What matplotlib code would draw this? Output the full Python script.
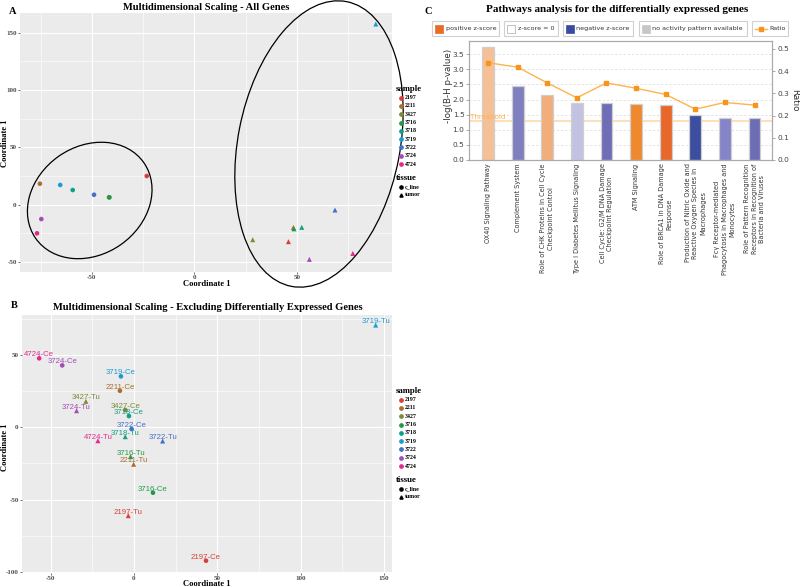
import numpy as np
import matplotlib
matplotlib.use("Agg")
import matplotlib.pyplot as plt
import matplotlib.transforms as mtransforms
from matplotlib.patches import Ellipse, Rectangle
from matplotlib.lines import Line2D

plt.rcParams['font.family'] = 'Liberation Serif'
plt.rcParams['axes.unicode_minus'] = False

W, H = 800, 587

##########################################
# data
##########################################
samples = ['2197', '2211', '3427', '3716', '3718', '3719', '3722', '3724', '4724']
sample_colors = ['#D8403A', '#A8702E', '#7D8B34', '#1F9A4A', '#10A084',
                 '#1C9BD3', '#4470C8', '#A24DB3', '#E12A8F']
tissues = ['c_line', 'tumor']

# panel A - all genes (coordinates per sample)
a_cline_x = [-23.2, -75.3, -41.6, -41.4, -59.3, -65.4, -48.9, -74.6, -76.7]
a_cline_y = [25.0, 18.3, 6.5, 6.4, 12.8, 17.2, 8.7, -12.5, -24.9]
a_tumor_x = [45.9, 48.3, 28.5, 48.6, 52.4, 88.5, 68.6, 56.1, 77.3]
a_tumor_y = [-32.2, -19.8, -30.5, -21.0, -19.7, 157.4, -4.6, -47.6, -42.4]

# panel B - excluding DE genes
b_cline_x = [43.2, -8.4, -5.2, 11.4, -3.0, -7.8, -1.4, -43.0, -56.8]
b_cline_y = [-92.4, 25.3, 12.0, -45.3, 7.8, 35.3, -1.2, 42.9, 47.8]
b_tumor_x = [-3.4, -0.2, -28.8, -2.0, -5.2, 144.9, 17.2, -34.4, -21.6]
b_tumor_y = [-61.2, -25.6, 18.0, -20.3, -6.5, 70.8, -9.5, 11.5, -9.3]

# panel C - pathways
pathways = ['OX40 Signaling Pathway',
            'Complement System',
            'Role of CHK Proteins in Cell Cycle\nCheckpoint Control',
            'Type I Diabetes Mellitus Signaling',
            'Cell Cycle: G2/M DNA Damage\nCheckpoint Regulation',
            'ATM Signaling',
            'Role of BRCA1 in DNA Damage\nResponse',
            'Production of Nitric Oxide and\nReactive Oxygen Species in\nMacrophages',
            'Fc\u03b3 Receptor-mediated\nPhagocytosis in Macrophages and\nMonocytes',
            'Role of Pattern Recognition\nReceptors in Recognition of\nBacteria and Viruses']
neg_log_p = [3.74, 2.44, 2.16, 1.90, 1.89, 1.86, 1.83, 1.49, 1.40, 1.40]
ratio = [0.438, 0.418, 0.347, 0.280, 0.347, 0.323, 0.295, 0.229, 0.259, 0.247]
bar_colors = ['#F5C096', '#7F7FC0', '#F2AE7A', '#C4C2E2', '#6E6DB5',
              '#F0892E', '#E8672A', '#3C4EA0', '#8584C8', '#6C6DB4']
threshold = 1.3
legend_c = ['positive z-score', 'z-score = 0', 'negative z-score',
            'no activity pattern available', 'Ratio']
legend_c_colors = ['#E96B26', 'white', '#3B4BA1', '#C6C6C6', '#F7941D']


def fx(x):
    return x / W


def fy(y):
    return 1 - y / H


fig = plt.figure(figsize=(8, 5.87), dpi=100)


def gg_style(ax, xmaj, xmin, ymaj, ymin):
    ax.set_facecolor('#EBEBEB')
    for s in ax.spines.values():
        s.set_visible(False)
    ax.set_xticks(xmaj)
    ax.set_xticks(xmin, minor=True)
    ax.set_yticks(ymaj)
    ax.set_yticks(ymin, minor=True)
    ax.grid(which='major', color='white', lw=0.8)
    ax.grid(which='minor', color='white', lw=0.4)
    ax.set_axisbelow(True)
    ax.tick_params(which='minor', length=0)
    ax.tick_params(which='major', length=1.6, width=0.5, color='#333333',
                   labelsize=5.0, labelcolor='#4D4D4D', pad=0.8)
    for t in ax.get_xticklabels() + ax.get_yticklabels():
        t.set_fontweight('bold')


def gg_legend(y0):
    kw = dict(fontweight='bold', va='center', ha='left')
    fig.text(fx(396), fy(y0), 'sample', fontsize=6.3, **kw)
    for i, (s, c) in enumerate(zip(samples, sample_colors)):
        yy = y0 + 8.6 + i * 8.3
        fig.add_artist(Line2D([fx(401)], [fy(yy)], marker='o', ms=2.4,
                              color=c, transform=fig.transFigure))
        fig.text(fx(405), fy(yy), s, fontsize=4.2, **kw)
    fig.text(fx(396), fy(y0 + 88.5), 'tissue', fontsize=6.3, **kw)
    for j, (t, m) in enumerate(zip(tissues, ['o', '^'])):
        yy = y0 + 97.5 + j * 8.2
        fig.add_artist(Line2D([fx(401)], [fy(yy)], marker=m, ms=2.3,
                              color='black', transform=fig.transFigure))
        fig.text(fx(405), fy(yy), t, fontsize=4.2, **kw)


def add_ellipse(ax, cx, cy, a_px, b_px, angle):
    trans = fig.dpi_scale_trans + mtransforms.ScaledTranslation(cx, cy, ax.transData)
    e = Ellipse((0, 0), 2 * a_px / 100, 2 * b_px / 100, angle=angle,
                transform=trans, fill=False, ec='black', lw=0.9, clip_on=False)
    fig.add_artist(e)


##########################################
# panel A
##########################################
axa = fig.add_axes([fx(20), fy(272), fx(392) - fx(20), fy(13) - fy(272)])
gg_style(axa, [-50, 0, 50], [-75, -25, 25, 75],
         [-50, 0, 50, 100, 150], [-25, 25, 75, 125])
axa.set_xlim(-85, 96.4)
axa.set_ylim(-58.6, 167)
axa.scatter(a_cline_x, a_cline_y, c=sample_colors, marker='o', s=11, lw=0, zorder=3)
axa.scatter(a_tumor_x, a_tumor_y, c=sample_colors, marker='^', s=13, lw=0, zorder=3)
add_ellipse(axa, -51, 3.7, 66, 54, 35)
add_ellipse(axa, 60.8, 52.9, 145, 81, 79)
fig.text(fx(206), fy(7), 'Multidimensional Scaling - All Genes', fontsize=7.6,
         fontweight='bold', ha='center', va='center')
fig.text(fx(12.5), fy(11.7), 'A', fontsize=7.5, fontweight='bold', ha='center', va='center')
fig.text(fx(207), fy(284), 'Coordinate 1', fontsize=6.1, fontweight='bold',
         ha='center', va='center')
fig.text(fx(5), fy(143), 'Coordinate 1', fontsize=6.1, fontweight='bold',
         ha='center', va='center', rotation=90)
gg_legend(89)

##########################################
# panel B
##########################################
axb = fig.add_axes([fx(22), fy(573), fx(392) - fx(22), fy(315) - fy(573)])
gg_style(axb, [-50, 0, 50, 100, 150], [-25, 25, 75, 125],
         [-100, -50, 0, 50], [-75, -25, 25, 75])
axb.set_xlim(-67.1, 154.7)
axb.set_ylim(-100.9, 77.8)
axb.scatter(b_cline_x, b_cline_y, c=sample_colors, marker='o', s=11, lw=0, zorder=3)
axb.scatter(b_tumor_x, b_tumor_y, c=sample_colors, marker='^', s=13, lw=0, zorder=3)
for s, c, x1, y1, x2, y2 in zip(samples, sample_colors, b_cline_x, b_cline_y,
                                b_tumor_x, b_tumor_y):
    axb.annotate(s + '-Ce', (x1, y1), xytext=(0, 0), textcoords='offset points',
                 ha='center', va='bottom', color=c, fontsize=5.6,
                 family='Liberation Sans', zorder=4)
    axb.annotate(s + '-Tu', (x2, y2), xytext=(0, 0), textcoords='offset points',
                 ha='center', va='bottom', color=c, fontsize=5.6,
                 family='Liberation Sans', zorder=4)
fig.text(fx(207.7), fy(307.3), 'Multidimensional Scaling - Excluding Differentially Expressed Genes',
         fontsize=7.6, fontweight='bold', ha='center', va='center')
fig.text(fx(14), fy(305), 'B', fontsize=7.5, fontweight='bold', ha='center', va='center')
fig.text(fx(207), fy(584.5), 'Coordinate 1', fontsize=6.1, fontweight='bold',
         ha='center', va='center')
fig.text(fx(5), fy(447), 'Coordinate 1', fontsize=6.1, fontweight='bold',
         ha='center', va='center', rotation=90)
gg_legend(391)

##########################################
# panel C
##########################################
sans = 'DejaVu Sans'
axc = fig.add_axes([fx(469.3), fy(160), fx(772.3) - fx(469.3), fy(40.7) - fy(160)])
x = np.arange(len(pathways))
axc.bar(x, neg_log_p, width=0.4, color=bar_colors, edgecolor='#CFCFCF', lw=0.9, zorder=2)
axc.set_xlim(-0.63, 9.6)
axc.set_ylim(0, 3.95)
axc.set_yticks(np.arange(0, 3.6, 0.5))
axc.yaxis.grid(True, ls=(0, (2.5, 2.5)), color='#DDDDDD', lw=0.6)
axc.set_axisbelow(True)
axc.axhline(threshold, color='#FFD9AA', lw=1.2, zorder=1)
axc.text(-0.6, threshold + 0.04, 'Threshold', color='#FFB050', fontsize=5.2,
         family=sans, va='bottom', ha='left')
axc.set_xticks(x)
axc.set_xticklabels(pathways, rotation=90, ha='center', va='top',
                    multialignment='center', fontsize=4.7, family=sans,
                    linespacing=1.35)
axc.tick_params(axis='x', length=0, pad=2.5, labelcolor='#333333')
axc.tick_params(axis='y', length=2, width=0.6, color='#999999', labelsize=5.3,
                labelcolor='#444444', pad=1.5)
for t in axc.get_yticklabels():
    t.set_family(sans)
for s in axc.spines.values():
    s.set_color('#AAAAAA')
    s.set_linewidth(0.8)
axc.set_ylabel('-log(B-H p-value)', fontsize=6.3, family=sans, color='#333333', labelpad=2)
axc.yaxis.set_label_coords(-0.055, 0.62)

axr = axc.twinx()
axr.plot(x, ratio, color='#FDB44B', lw=1.0, marker='s', ms=3.3,
         mfc='#F7941D', mec='#F7941D', zorder=3)
axr.set_ylim(0, 0.537)
axr.set_yticks(np.arange(0, 0.51, 0.1))
axr.tick_params(axis='y', length=2, width=0.6, color='#999999', labelsize=5.3,
                labelcolor='#444444', pad=1.5)
for t in axr.get_yticklabels():
    t.set_family(sans)
for s in axr.spines.values():
    s.set_color('#AAAAAA')
    s.set_linewidth(0.8)
axr.set_ylabel('Ratio', fontsize=6.3, family=sans, color='#333333',
               rotation=270, labelpad=7)

fig.text(fx(617), fy(10), 'Pathways analysis for the differentially expressed genes',
         fontsize=8, fontweight='bold', ha='center', va='center')
fig.text(fx(428), fy(12), 'C', fontsize=7.5, fontweight='bold', ha='center', va='center')

# legend row of panel C
box_edges = [(432, 499), (504, 558), (563, 633), (639, 747), (752, 788)]
for (x0, x1), lab, col in zip(box_edges, legend_c, legend_c_colors):
    fig.add_artist(Rectangle((fx(x0), fy(36)), fx(x1) - fx(x0), fy(21) - fy(36),
                             transform=fig.transFigure, fc='white', ec='#D0D0D0', lw=0.8))
    if lab == 'Ratio':
        fig.add_artist(Line2D([fx(x0 + 3), fx(x0 + 15)], [fy(28.5), fy(28.5)],
                              color='#FDB44B', lw=1.0, transform=fig.transFigure))
        fig.add_artist(Line2D([fx(x0 + 9)], [fy(28.5)], marker='s', ms=3.3,
                              color=col, transform=fig.transFigure))
        tx = x0 + 17
    else:
        fig.add_artist(Rectangle((fx(x0 + 3), fy(32.5)), fx(8) - fx(0), fy(25) - fy(32.5),
                                 transform=fig.transFigure, fc=col,
                                 ec='#AAAAAA' if col == 'white' else col, lw=0.5))
        tx = x0 + 13.5
    fig.text(fx(tx), fy(28.5), lab, fontsize=4.6, family=sans, color='#333333',
             va='center', ha='left')

fig.savefig('out.png', dpi=100)
